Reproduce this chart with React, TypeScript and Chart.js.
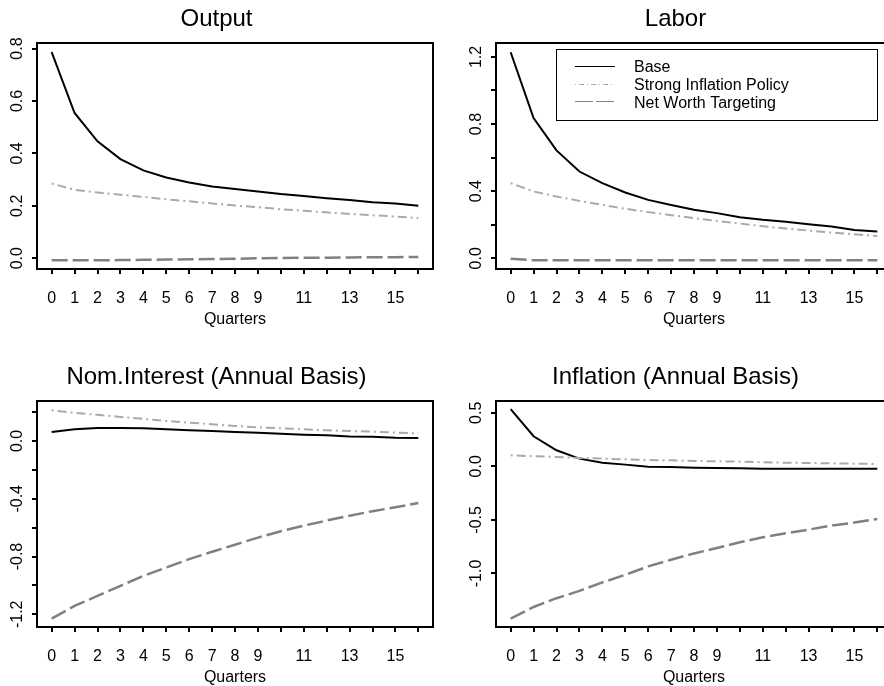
import React, { useEffect, useRef } from "react";
import { Chart, registerables } from "chart.js";

Chart.register(...registerables);

// ---------- data ----------
const quarters = [0, 1, 2, 3, 4, 5, 6, 7, 8, 9, 10, 11, 12, 13, 14, 15, 16];
const xLabelled = [0, 1, 2, 3, 4, 5, 6, 7, 8, 9, 11, 13, 15];
const seriesNames = ["Base", "Strong Inflation Policy", "Net Worth Targeting"];

const outputBase = [0.786, 0.554, 0.446, 0.378, 0.335, 0.308, 0.289, 0.274, 0.264, 0.255, 0.245, 0.237, 0.229, 0.222, 0.214, 0.209, 0.2];
const outputStrong = [0.285, 0.261, 0.251, 0.242, 0.234, 0.225, 0.217, 0.209, 0.201, 0.195, 0.187, 0.181, 0.175, 0.169, 0.164, 0.159, 0.153];
const outputNet = [-0.008, -0.008, -0.008, -0.007, -0.006, -0.005, -0.004, -0.003, -0.002, 0.0, 0.001, 0.002, 0.002, 0.003, 0.004, 0.004, 0.005];

const laborBase = [1.228, 0.836, 0.643, 0.517, 0.448, 0.392, 0.348, 0.318, 0.289, 0.269, 0.245, 0.229, 0.217, 0.203, 0.189, 0.169, 0.159];
const laborStrong = [0.448, 0.398, 0.368, 0.342, 0.318, 0.295, 0.275, 0.257, 0.239, 0.223, 0.207, 0.191, 0.177, 0.165, 0.153, 0.143, 0.133];
const laborNet = [-0.003, -0.012, -0.012, -0.012, -0.012, -0.012, -0.012, -0.012, -0.012, -0.012, -0.012, -0.012, -0.012, -0.012, -0.012, -0.012, -0.012];

const interestBase = [0.063, 0.081, 0.09, 0.09, 0.088, 0.081, 0.074, 0.069, 0.063, 0.058, 0.051, 0.044, 0.039, 0.032, 0.03, 0.023, 0.021];
const interestStrong = [0.213, 0.195, 0.181, 0.167, 0.153, 0.139, 0.127, 0.116, 0.104, 0.095, 0.088, 0.081, 0.074, 0.069, 0.065, 0.058, 0.053];
const interestNet = [-1.23, -1.142, -1.073, -1.003, -0.934, -0.876, -0.818, -0.767, -0.718, -0.669, -0.625, -0.586, -0.551, -0.517, -0.486, -0.459, -0.429];

const inflationBase = [0.534, 0.281, 0.15, 0.072, 0.034, 0.016, -0.003, -0.006, -0.013, -0.016, -0.019, -0.022, -0.022, -0.022, -0.022, -0.022, -0.022];
const inflationStrong = [0.103, 0.094, 0.088, 0.078, 0.072, 0.066, 0.059, 0.056, 0.05, 0.047, 0.044, 0.038, 0.034, 0.031, 0.028, 0.025, 0.022];
const inflationNet = [-1.422, -1.313, -1.231, -1.163, -1.084, -1.013, -0.934, -0.872, -0.813, -0.763, -0.709, -0.663, -0.625, -0.591, -0.553, -0.525, -0.491];

const outputYTicks = [0, 0.2, 0.4, 0.6, 0.8];
const outputYLabelled = [0, 0.2, 0.4, 0.6, 0.8];
const laborYTicks = [0, 0.2, 0.4, 0.6, 0.8, 1.0, 1.2];
const laborYLabelled = [0, 0.4, 0.8, 1.2];
const interestYTicks = [0.2, 0, -0.2, -0.4, -0.6, -0.8, -1.0, -1.2];
const interestYLabelled = [0, -0.4, -0.8, -1.2];
const inflationYTicks = [0.5, 0, -0.5, -1.0];
const inflationYLabelled = [0.5, 0, -0.5, -1.0];

const outputRange = [-0.041, 0.821];
const laborRange = [-0.064, 1.283];
const interestRange = [-1.288, 0.277];
const inflationRange = [-1.5, 0.61];

// ---------- style ----------
const FONT = "'Liberation Sans', Arial, Helvetica, sans-serif";
const COLORS = ["#000000", "#aaaaaa", "#808080"];
const WIDTHS = [2, 2, 2.5];
const DASHES = [[], [2, 4, 9, 4], [16, 5]];
const LEGEND_DASHES = [[], [1, 3, 5, 3], [18, 3]];

const has = (arr: number[], v: number) => arr.some((a) => Math.abs(a - v) < 1e-9);
const fmt = (v: number) => (Math.abs(v) < 1e-9 ? 0 : v).toFixed(1);

const boxPlugin = {
  id: "rbox",
  afterDatasetsDraw(chart: any) {
    const { ctx, chartArea: a } = chart;
    ctx.save();
    ctx.strokeStyle = "#000";
    ctx.lineWidth = 2;
    ctx.setLineDash([]);
    ctx.strokeRect(a.left, a.top, a.right - a.left, a.bottom - a.top);
    ctx.restore();
  },
};

const legendPlugin = {
  id: "rlegend",
  afterDraw(chart: any) {
    const { ctx, chartArea: a } = chart;
    const w = 321;
    const h = 71;
    const x0 = Math.round(a.right - 15 - w);
    const y0 = Math.round(a.top + 6);
    ctx.save();
    ctx.fillStyle = "#fff";
    ctx.fillRect(x0, y0, w, h);
    ctx.strokeStyle = "#000";
    ctx.lineWidth = 1;
    ctx.setLineDash([]);
    ctx.strokeRect(x0 + 0.5, y0 + 0.5, w, h);
    chart.data.datasets.forEach((ds: any, i: number) => {
      const y = y0 + 19 + i * 17.7;
      const ly = Math.round(y - 2) + 0.5;
      ctx.beginPath();
      ctx.setLineDash(LEGEND_DASHES[i]);
      ctx.strokeStyle = ds.borderColor;
      ctx.lineWidth = 1;
      ctx.moveTo(x0 + 19, ly);
      ctx.lineTo(x0 + 59, ly);
      ctx.stroke();
      ctx.setLineDash([]);
      ctx.fillStyle = "#000";
      ctx.font = `16px ${FONT}`;
      ctx.textBaseline = "middle";
      ctx.textAlign = "left";
      ctx.fillText(ds.label, x0 + 78, y);
    });
    ctx.restore();
  },
};

type PanelProps = {
  title: string;
  series: number[][];
  range: number[];
  yTicks: number[];
  yLabelled: number[];
  legend?: boolean;
  left: number;
  top: number;
};

function Panel({ title, series, range, yTicks, yLabelled, legend, left, top }: PanelProps) {
  const ref = useRef<HTMLCanvasElement>(null);
  useEffect(() => {
    const canvas = ref.current;
    if (!canvas) return;
    const m = document.createElement("canvas").getContext("2d")!;
    m.font = `16px ${FONT}`;
    const widest = Math.max(...yLabelled.map((v) => m.measureText(fmt(v)).width));
    const yPad = 37 - 5 - 18 - widest / 2;
    const tickFont = { size: 16, family: FONT };
    const chart = new Chart(canvas, {
      type: "line",
      data: {
        datasets: series.map((vals, i) => ({
          label: seriesNames[i],
          data: quarters.map((q, j) => ({ x: q, y: vals[j] })),
          borderColor: COLORS[i],
          backgroundColor: COLORS[i],
          borderWidth: WIDTHS[i],
          borderDash: DASHES[i],
          borderCapStyle: "butt",
          pointRadius: 0,
          tension: 0,
          fill: false,
          order: 3 - i,
        })),
      },
      options: {
        animation: false,
        responsive: true,
        maintainAspectRatio: false,
        layout: { padding: { left: 0, right: 37, top: 0, bottom: 0 } },
        plugins: {
          legend: { display: false },
          tooltip: { enabled: false },
          title: {
            display: true,
            text: title,
            color: "#000",
            font: { size: 24, family: FONT, weight: "normal" },
            padding: { top: 5, bottom: 9.2 },
          },
        },
        scales: {
          x: {
            type: "linear",
            min: -0.64,
            max: 16.64,
            bounds: "data",
            afterBuildTicks: (s: any) => {
              s.ticks = quarters.map((v) => ({ value: v }));
            },
            afterFit: (s: any) => {
              s.height = 90;
            },
            ticks: {
              autoSkip: false,
              maxRotation: 0,
              minRotation: 0,
              color: "#000",
              font: tickFont,
              padding: 15,
              callback: (v: any) => (has(xLabelled, Number(v)) ? String(v) : ""),
            },
            grid: {
              display: true,
              drawOnChartArea: false,
              drawTicks: true,
              tickLength: 5,
              color: "#000",
              lineWidth: 2,
            },
            border: { display: false },
            title: {
              display: true,
              text: "Quarters",
              color: "#000",
              font: { size: 16, family: FONT },
              padding: { top: 0, bottom: 30 },
            },
          },
          y: {
            type: "linear",
            min: range[0],
            max: range[1],
            bounds: "data",
            afterBuildTicks: (s: any) => {
              s.ticks = yTicks.map((v) => ({ value: v }));
            },
            afterFit: (s: any) => {
              s.width = 37;
            },
            ticks: {
              autoSkip: false,
              minRotation: 90,
              maxRotation: 90,
              crossAlign: "center",
              padding: yPad,
              color: "#000",
              font: tickFont,
              callback: (v: any) => (has(yLabelled, Number(v)) ? fmt(Number(v)) : ""),
            },
            grid: {
              display: true,
              drawOnChartArea: false,
              drawTicks: true,
              tickLength: 5,
              color: "#000",
              lineWidth: 2,
            },
            border: { display: false },
          },
        },
      } as any,
      plugins: legend ? [boxPlugin, legendPlugin] : [boxPlugin],
    });
    return () => chart.destroy();
  }, []);
  return (
    <div style={{ position: "absolute", left, top, width: 470, height: 359 }}>
      <canvas ref={ref} />
    </div>
  );
}

export default function App() {
  return (
    <div
      style={{
        position: "fixed",
        left: 0,
        top: 0,
        width: 884,
        height: 686,
        overflow: "hidden",
        background: "#fff",
      }}
    >
      <Panel
        title="Output"
        series={[outputBase, outputStrong, outputNet]}
        range={outputRange}
        yTicks={outputYTicks}
        yLabelled={outputYLabelled}
        left={0}
        top={0}
      />
      <Panel
        title="Labor"
        series={[laborBase, laborStrong, laborNet]}
        range={laborRange}
        yTicks={laborYTicks}
        yLabelled={laborYLabelled}
        legend
        left={459}
        top={0}
      />
      <Panel
        title="Nom.Interest (Annual Basis)"
        series={[interestBase, interestStrong, interestNet]}
        range={interestRange}
        yTicks={interestYTicks}
        yLabelled={interestYLabelled}
        left={0}
        top={358}
      />
      <Panel
        title="Inflation (Annual Basis)"
        series={[inflationBase, inflationStrong, inflationNet]}
        range={inflationRange}
        yTicks={inflationYTicks}
        yLabelled={inflationYLabelled}
        left={459}
        top={358}
      />
    </div>
  );
}
